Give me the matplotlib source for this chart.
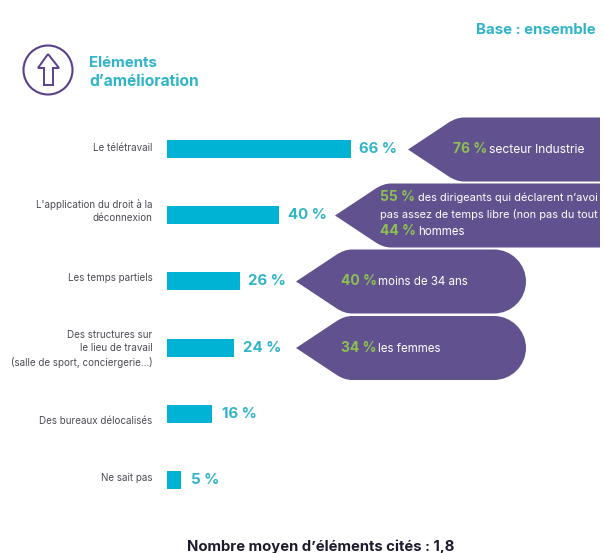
import matplotlib
matplotlib.use("Agg")
import matplotlib.pyplot as plt
from matplotlib.patches import Circle, PathPatch
from matplotlib.path import Path

plt.rcParams['font.family'] = ['Inter', 'DejaVu Sans']

categories = [
    "Le télétravail",
    "L'application du droit à la\ndéconnexion",
    "Les temps partiels",
    "Des structures sur\nle lieu de travail\n(salle de sport, conciergerie...)",
    "Des bureaux délocalisés",
    "Ne sait pas",
]
values = [66, 40, 26, 24, 16, 5]
label_dy = [-1.5, -4, -3.5, 1.5, 7, -2]
value_dx = [5.5, 7, 6.2, 6.2, 7.5, 7.5]

BLUE = '#00b2d3'
TEAL = '#2fb4c8'
PURPLE = '#62518f'
GREEN = '#8cc152'
GREY = '#4d4a55'
W, H = 604, 553
KAPPA = 0.55


def rounded_callout(tip_x, tip_y, half_h, right_x, round_right):
    # arrow shaped box, pixel coordinates
    top, bot = tip_y - half_h, tip_y + half_h
    verts = [(tip_x, tip_y), (tip_x + 40, top + 5.5), (tip_x + 48, top), (tip_x + 56, top)]
    codes = [Path.MOVETO, Path.LINETO, Path.CURVE3, Path.CURVE3]
    if round_right:
        r = half_h
        verts += [(right_x - r, top),
                  (right_x - r + KAPPA * r, top), (right_x, tip_y - KAPPA * r), (right_x, tip_y),
                  (right_x, tip_y + KAPPA * r), (right_x - r + KAPPA * r, bot), (right_x - r, bot)]
        codes += [Path.LINETO] + [Path.CURVE4] * 6
    else:
        verts += [(right_x, top), (right_x, bot)]
        codes += [Path.LINETO, Path.LINETO]
    verts += [(tip_x + 56, bot), (tip_x + 48, bot), (tip_x + 40, bot - 5.5), (tip_x, tip_y)]
    codes += [Path.LINETO, Path.CURVE3, Path.CURVE3, Path.LINETO]
    return PathPatch(Path(verts, codes), facecolor=PURPLE, edgecolor='none')


fig = plt.figure(figsize=(W / 100, H / 100), dpi=100)

# overlay in pixel coordinates for the callouts and header
over = fig.add_axes([0, 0, 1, 1])
over.set_xlim(0, W)
over.set_ylim(H, 0)
over.axis('off')

# bars
ax = fig.add_axes([167 / W, 1 - 513 / H, (W - 167) / W, 397 / H])
ax.patch.set_alpha(0)
ax.barh(range(len(values)), values, height=0.27, color=BLUE)
ax.set_xlim(0, (W - 167) / 2.79)
ax.set_ylim(5.5, -0.5)
ax.axis('off')
for i, (v, cat) in enumerate(zip(values, categories)):
    ax.annotate(f"{v} %", (v, i), xytext=(value_dx[i], 0), textcoords='offset points',
                color=TEAL, fontsize=10.8, fontweight='bold', va='center', ha='left')
    ax.annotate(cat, (0, i), xytext=(-10.5, -label_dy[i] * 0.72), textcoords='offset points',
                color=GREY, fontsize=7.1, va='center', ha='right', linespacing=1.4,
                annotation_clip=False)

# header
over.add_patch(Circle((48, 70), 24.5, facecolor='none', edgecolor='#5b3f8e', linewidth=1.5))
arrow = [(48, 54), (59, 68), (53, 68), (53, 85), (44, 85), (44, 68), (38, 68), (48, 54)]
over.add_patch(PathPatch(Path(arrow), facecolor='none', edgecolor='#5b3f8e', linewidth=1.4))
over.text(89, 63, "Eléments", color=TEAL, fontsize=10.8, fontweight='bold', va='center')
over.text(89, 82, "d’amélioration", color=TEAL, fontsize=11.2, fontweight='bold', va='center')
over.text(476, 30.5, "Base : ensemble", color=TEAL, fontsize=10.8, fontweight='bold', va='center')
over.text(321, 546.5, "Nombre moyen d’éléments cités : 1,8", color='#1f1b2e', fontsize=10.7,
          fontweight='bold', va='center', ha='center')

# callouts
over.add_patch(rounded_callout(408, 149.5, 32, 600, False))
over.add_patch(rounded_callout(335, 215.5, 32, 600, False))
over.add_patch(rounded_callout(296, 281.5, 32, 526, True))
over.add_patch(rounded_callout(296, 348, 32, 526, True))

callout_pct = [
    (453, 149, "76 %"), (380, 197, "55 %"), (380, 231, "44 %"),
    (341, 281, "40 %"), (341, 348, "34 %"),
]
# the two long lines run off the box in the reference, kept as they read there
callout_txt = [
    (489, 150, "secteur Industrie", 8.7),
    (418, 198, "des dirigeants qui déclarent n’avoi", 7.95),
    (380, 215, "pas assez de temps libre (non pas du tout", 7.9),
    (418, 232, "hommes", 8.3),
    (378, 282, "moins de 34 ans", 8.3),
    (378, 349, "les femmes", 8.3),
]
for x, y, s in callout_pct:
    over.text(x, y, s, color=GREEN, fontsize=10, fontweight='bold', va='center')
for x, y, s, size in callout_txt:
    over.text(x, y, s, color='white', fontsize=size, va='center')

fig.savefig("out.png", dpi=100)
